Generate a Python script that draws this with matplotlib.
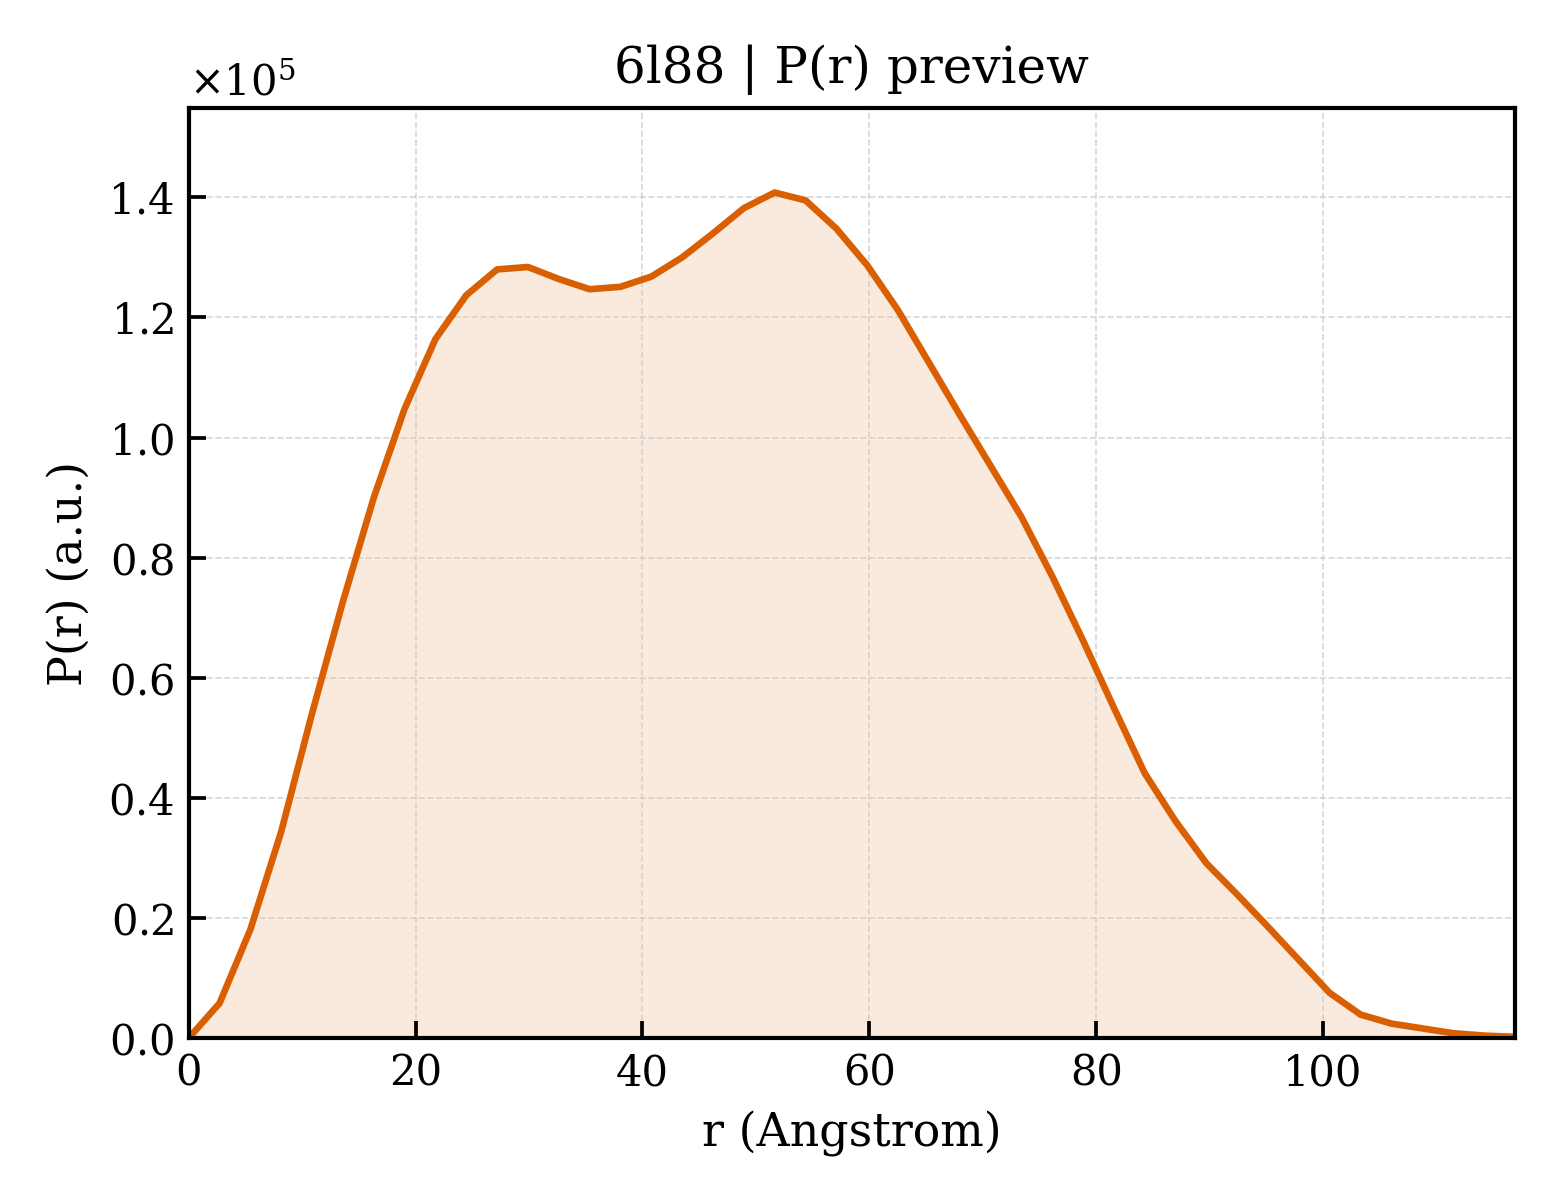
import numpy as np
import matplotlib
matplotlib.use("Agg")
import matplotlib.pyplot as plt
from matplotlib.ticker import ScalarFormatter

# P(r), 44 samples, step ~2.72 A
r_max = 116.9
r = np.linspace(0, r_max, 44)
pr_scaled = [
    0.000, 0.058, 0.181, 0.344, 0.541, 0.727, 0.900, 1.048, 1.164, 1.237,
    1.280, 1.284, 1.264, 1.247, 1.251, 1.268, 1.300, 1.340, 1.382, 1.408,
    1.395, 1.348, 1.287, 1.212, 1.125, 1.038, 0.953, 0.868, 0.769, 0.662,
    0.550, 0.441, 0.361, 0.291, 0.239, 0.185, 0.130, 0.075, 0.039, 0.024,
    0.016, 0.008, 0.004, 0.002,
]
pr = np.array(pr_scaled) * 1e5

title = "6l88 | P(r) preview"
line_color = "#D95F02"

plt.rcParams['font.family'] = ['DejaVu Serif']
plt.rcParams['mathtext.fontset'] = 'dejavuserif'

fig, ax = plt.subplots(figsize=(5.2, 4.0), dpi=300)
fig.subplots_adjust(left=0.121, right=0.971, bottom=0.135, top=0.91)

ax.fill_between(r, pr, color=line_color, alpha=0.13, linewidth=0)
ax.plot(r, pr, color=line_color, linewidth=1.6)

ax.set_xlim(0, r_max)
ax.set_ylim(0, 1.1 * pr.max())

fmt = ScalarFormatter(useMathText=True)
fmt.set_powerlimits((0, 0))
ax.yaxis.set_major_formatter(fmt)
ax.yaxis.get_offset_text().set_fontsize(10)

ax.set_xlabel("r (Angstrom)", fontsize=11)
ax.set_ylabel("P(r) (a.u.)", fontsize=11)
ax.set_title(title, fontsize=12)

ax.tick_params(direction='in', length=4, width=0.9, labelsize=10)
for sp in ax.spines.values():
    sp.set_linewidth(1.0)
ax.grid(True, linestyle='--', linewidth=0.4, color='#cccccc', alpha=0.8)

fig.savefig("out.png", dpi=300)
